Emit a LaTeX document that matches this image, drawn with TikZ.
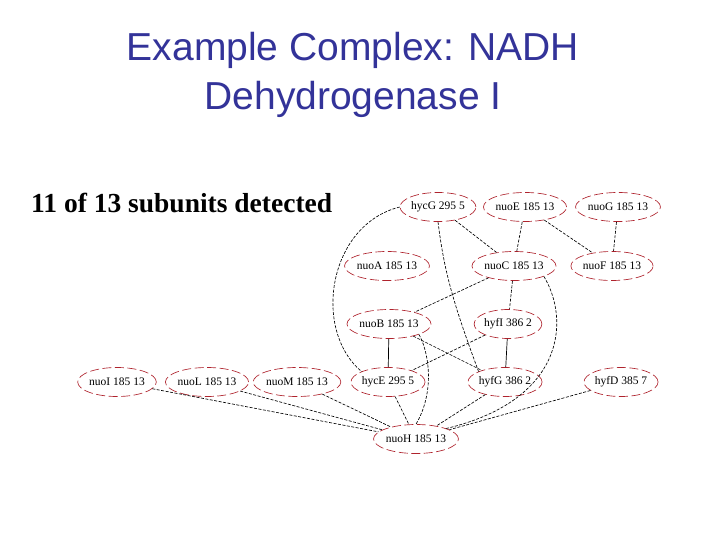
\documentclass[tikz,border=0pt]{standalone}
\usepackage{fontspec}
\setmainfont{Liberation Serif}
\newfontfamily\titlefont{Liberation Sans}
\usetikzlibrary{shapes.geometric}
\definecolor{titleblue}{RGB}{51,51,153}
\definecolor{nodered}{RGB}{175,35,45}
\tikzset{
  prot/.style={ellipse, draw=nodered, line width=0.65pt, dash pattern=on 9pt off 3.5pt,
    minimum height=29pt, minimum width=#1, inner sep=0pt,
    font=\fontsize{11.5}{12}\selectfont},
  prot/.default=74pt,
  link/.style={draw=black, line width=0.65pt, dash pattern=on 3pt off 1.5pt},
  solidlink/.style={draw=black, line width=0.7pt}
}
\begin{document}
\begin{tikzpicture}[x=1pt,y=-1pt]
\useasboundingbox (0,0) rectangle (720,540);
\fill[white] (0,0) rectangle (720,540);
% titles
\node[anchor=base, text=titleblue, font=\titlefont\fontsize{39}{44}\selectfont] (t1) at (353,61) {Example Complex: NADH};
\node[anchor=base, text=titleblue, font=\titlefont\fontsize{39}{44}\selectfont] (t2) at (353,110) {Dehydrogenase I};
\node[anchor=base west, inner sep=0pt, font=\bfseries\fontsize{27.5}{30}\selectfont] (sub) at (31,212) {11 of 13 subunits detected};
% nodes
\node[prot=71pt] (hycG) at (438,207) {hycG 295 5};
\node[prot=76pt] (nuoE) at (525,207) {nuoE 185 13};
\node[prot=78pt] (nuoG) at (618,207) {nuoG 185 13};
\node[prot=78pt] (nuoA) at (387,266) {nuoA 185 13};
\node[prot=78pt] (nuoC) at (514,266) {nuoC 185 13};
\node[prot=78pt] (nuoF) at (612,266) {nuoF 185 13};
\node[prot=78pt] (nuoB) at (389,324) {nuoB 185 13};
\node[prot=66pt] (hyfI) at (508,324) {hyfI 386 2};
\node[prot=73pt] (nuoI) at (117,382) {nuoI 185 13};
\node[prot=77pt] (nuoL) at (207,382) {nuoL 185 13};
\node[prot=78pt] (nuoM) at (297,382) {nuoM 185 13};
\node[prot=70pt] (hycE) at (388,382) {hycE 295 5};
\node[prot=70pt] (hyfG) at (505,382) {hyfG 386 2};
\node[prot=67pt] (hyfD) at (621,382) {hyfD 385 7};
\node[prot=78pt] (nuoH) at (416,439) {nuoH 185 13};
% edges
\draw[link] (hycG) -- (nuoC);
\draw[link] (hycG.south) .. controls (444,270) and (452,300) .. (hyfG.north west);
\draw[link] (hycG.west) .. controls (328,225) and (312,330) .. (hycE.north west);
\draw[link] (nuoE) -- (nuoC);
\draw[link] (nuoE) -- (nuoF);
\draw[link] (nuoG) -- (nuoF);
\draw[link] (nuoC) -- (nuoB);
\draw[link] (nuoC) -- (hyfI);
\draw[link] (nuoC.south east) .. controls (570,320) and (565,400) .. (nuoH.north east);
\draw[link] (nuoB) -- (hyfG);
\draw[link] (nuoB.south east) .. controls (428,350) and (436,390) .. (nuoH.north);
\draw[solidlink] (nuoB) -- (hycE);
\draw[link] (hyfI) -- (hycE);
\draw[solidlink] (hyfI) -- (hyfG);
\draw[link] (hycE) -- (nuoH);
\draw[link] (hyfG) -- (nuoH);
\draw[link] (hyfD) -- (nuoH);
\draw[link] (nuoI) -- (nuoH);
\draw[link] (nuoL) -- (nuoH);
\draw[link] (nuoM) -- (nuoH);
\end{tikzpicture}
\end{document}
